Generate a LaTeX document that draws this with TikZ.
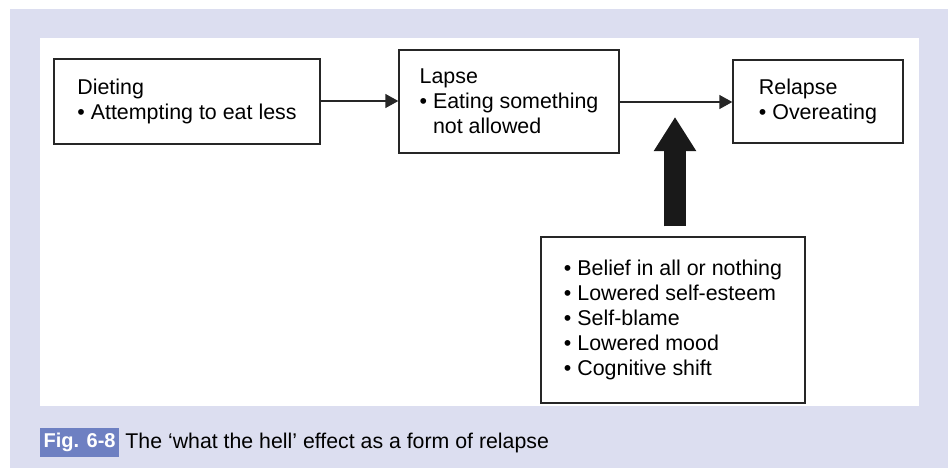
\documentclass[tikz,border=0pt]{standalone}
\usepackage{fontspec}
\setmainfont{Liberation Sans}
\usetikzlibrary{arrows.meta,positioning}

\definecolor{pagebg}{HTML}{DCDEF0}
\definecolor{tagblue}{HTML}{6E80C2}

\tikzset{
	box/.style={draw=black!85, line width=1.4pt, fill=white, align=left, font=\fontsize{21.4}{25}\selectfont},
	link/.style={line width=1.4pt, draw=black!85, -{Triangle[length=13pt,width=14pt]}},
	bigarrow/.style={line width=22pt, draw=black!90, -{Triangle[length=34pt,width=40pt]}},
}

\begin{document}
\begin{tikzpicture}[x=1pt,y=-1pt]

		% page and panel
		\useasboundingbox (0,0) rectangle (948,469);
		\fill [white] (0,0) rectangle (948,469);
		\fill [pagebg] (10,9) rectangle (948,468);
		\fill [white] (40,38) rectangle (919,406);

		% the three stages
		\node [box, minimum width=266, minimum height=85] (diet) at (187,101.5) {Dieting\\\textbullet{} Attempting to eat less};
		\node [box, minimum width=220, minimum height=103] (lapse) at (509,101.5) {Lapse\\\textbullet{} Eating something\\\phantom{\textbullet{} }not allowed};
		\node [box, minimum width=170, minimum height=83] (relapse) at (818,101.5) {Relapse\\\textbullet{} Overeating};

		\draw [link] (diet.east |- 0,101) -- (lapse.west |- 0,101);
		\draw [link] (lapse.east |- 0,102) -- (relapse.west |- 0,102);

		% what pushes a lapse over
		\node [box, minimum width=264, minimum height=166] (factors) at (673,320) {\textbullet{} Belief in all or nothing\\\textbullet{} Lowered self-esteem\\\textbullet{} Self-blame\\\textbullet{} Lowered mood\\\textbullet{} Cognitive shift};
		\coordinate (push) at (675,117);
		\draw [bigarrow, shorten <=10pt] (factors.north -| push) -- (push);

		% caption
		\node [fill=tagblue, text=white, font=\fontsize{20}{24}\selectfont\bfseries, inner xsep=3.5pt, inner ysep=0pt, minimum height=29, anchor=west] (figtag) at (40,442.5) {Fig. 6-8};
		\node [font=\fontsize{21.3}{24}\selectfont, inner sep=0pt, right=6pt of figtag] (figcap) {The ‘what the hell’ effect as a form of relapse};

\end{tikzpicture}
\end{document}
